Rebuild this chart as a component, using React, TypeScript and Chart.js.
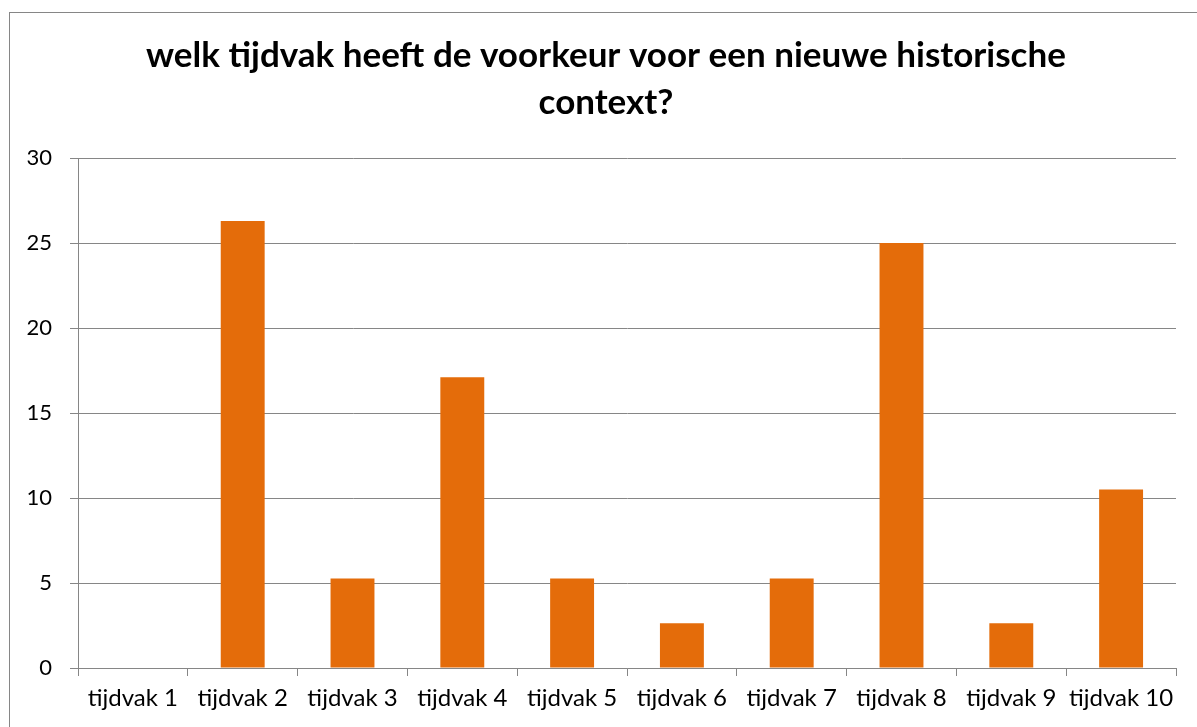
import React, { useEffect, useRef } from "react";
import { Chart, registerables } from "chart.js";

Chart.register(...registerables);

const categories = ["tijdvak 1", "tijdvak 2", "tijdvak 3", "tijdvak 4", "tijdvak 5", "tijdvak 6", "tijdvak 7", "tijdvak 8", "tijdvak 9", "tijdvak 10"];
const values = [0, 26.3, 5.26, 17.1, 5.26, 2.63, 5.26, 25, 2.63, 10.5];
const yTicks = [0, 5, 10, 15, 20, 25, 30];
const titleLines = ["welk tijdvak heeft de voorkeur voor een nieuwe historische", "context?"];

const FONT = "Lato, 'Open Sans', sans-serif";
const GRID = "#868686";

const frameAndTitlePlugin = {
  id: "frameAndTitle",
  beforeDraw(chart: any) {
    const ctx = chart.ctx;
    ctx.save();
    ctx.fillStyle = "#ffffff";
    ctx.fillRect(0, 0, chart.width, chart.height);
    ctx.strokeStyle = GRID;
    ctx.lineWidth = 1;
    ctx.strokeRect(9.5, 12.5, chart.width + 50, chart.height + 50);
    ctx.restore();
  },
  afterDraw(chart: any) {
    const ctx = chart.ctx;
    ctx.save();
    ctx.fillStyle = "#000";
    ctx.font = `bold 35px ${FONT}`;
    ctx.textAlign = "center";
    ctx.textBaseline = "alphabetic";
    const cx = 606;
    titleLines.forEach((line, i) => {
      ctx.fillText(line, cx, 67 + i * 47);
    });
    ctx.restore();
  },
};

export default function App() {
  const ref = useRef<HTMLCanvasElement>(null);
  useEffect(() => {
    if (!ref.current) return;
    const chart = new Chart(ref.current, {
      type: "bar",
      data: {
        labels: categories,
        datasets: [
          {
            data: values,
            backgroundColor: "#E46C0A",
            borderWidth: 0,
            barPercentage: 0.4,
            categoryPercentage: 1,
          },
        ],
      },
      options: {
        animation: false,
        responsive: false,
        devicePixelRatio: 1,
        layout: { padding: { left: 9, right: 21, top: 158, bottom: 0 } },
        plugins: {
          legend: { display: false },
          tooltip: { enabled: false },
          title: { display: false },
        },
        scales: {
          x: {
            offset: true,
            grid: {
              offset: true,
              drawOnChartArea: false,
              drawTicks: true,
              tickLength: 8,
              color: GRID,
              lineWidth: 1,
            },
            border: { display: true, color: GRID, width: 1 },
            ticks: {
              color: "#000",
              font: { family: FONT, size: 24 },
              padding: 8,
              maxRotation: 0,
              autoSkip: false,
            },
            afterFit(scale: any) {
              scale.height = 59;
            },
          },
          y: {
            min: 0,
            max: 30,
            afterBuildTicks(scale: any) {
              scale.ticks = yTicks.map((v) => ({ value: v }));
            },
            grid: { color: GRID, lineWidth: 1, tickLength: 8, drawTicks: true },
            border: { display: true, color: GRID, width: 1 },
            ticks: {
              color: "#000",
              font: { family: FONT, size: 22 },
              padding: 18,
            },
            afterFit(scale: any) {
              scale.width = 69;
            },
          },
        },
      },
      plugins: [frameAndTitlePlugin],
    });
    return () => chart.destroy();
  }, []);
  return (
    <div style={{ position: "absolute", left: 0, top: 0, width: 1197, height: 727 }}>
      <canvas ref={ref} width={1197} height={727} style={{ display: "block", width: 1197, height: 727 }} />
    </div>
  );
}
